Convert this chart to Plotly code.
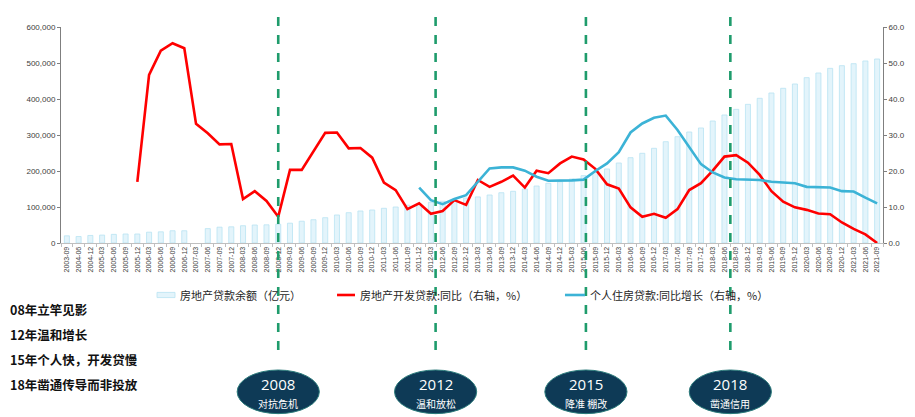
import plotly.graph_objects as go

dates = ['2003-09', '2004-06', '2004-12',
         '2005-03', '2005-06', '2005-09', '2005-12', '2006-03', '2006-06', '2006-09', '2006-12',
         '2007-03', '2007-06', '2007-09', '2007-12', '2008-03', '2008-06', '2008-09', '2008-12',
         '2009-03', '2009-06', '2009-09', '2009-12', '2010-03', '2010-06', '2010-09', '2010-12',
         '2011-03', '2011-06', '2011-09', '2011-12', '2012-03', '2012-06', '2012-09', '2012-12',
         '2013-03', '2013-06', '2013-09', '2013-12', '2014-03', '2014-06', '2014-09', '2014-12',
         '2015-03', '2015-06', '2015-09', '2015-12', '2016-03', '2016-06', '2016-09', '2016-12',
         '2017-03', '2017-06', '2017-09', '2017-12', '2018-03', '2018-06', '2018-09', '2018-12',
         '2019-03', '2019-06', '2019-09', '2019-12', '2020-03', '2020-06', '2020-09', '2020-12',
         '2021-03', '2021-06', '2021-09']

# 房地产贷款余额（亿元）
loan_balance = [20000, 18000, 21000,
                22000, 24000, 25000, 25000, 30000, 31000, 34000, 34000,
                None, 40000, 44000, 45000, 48000, 50000, 50500, 52000,
                55000, 60500, 64700, 70300, 77800, 84200, 88900, 91700,
                96400, 100000, 105000, 108300, 113000, 116000, 121400, 125000,
                128000, 133300, 139700, 143600, 150000, 158300, 165800, 170300,
                177800, 187000, 196000, 205600, 222200, 237000, 249100, 263000,
                281400, 295300, 308300, 319500, 338900, 355600, 371300, 385200,
                401900, 416700, 429700, 441700, 459300, 472200, 485200, 492600,
                498100, 505600, 511100]

# 房地产开发贷款:同比（%）
dev_loan_yoy = [None, None, None,
                None, None, None, 17.0, 46.7, 53.4, 55.5, 54.1,
                33.1, 30.5, 27.4, 27.5, 12.2, 14.4, 11.7, 7.3,
                20.3, 20.3, 25.3, 30.6, 30.7, 26.3, 26.4, 23.7,
                16.8, 14.7, 9.4, 11.0, 8.1, 8.9, 11.9, 10.6,
                17.5, 15.6, 17.0, 18.7, 15.4, 20.1, 19.4, 22.1,
                24.0, 23.2, 20.6, 16.3, 15.1, 9.9, 7.3, 8.1,
                7.0, 9.4, 14.7, 16.6, 20.1, 24.0, 24.4, 22.3,
                18.9, 14.4, 11.5, 9.9, 9.2, 8.2, 8.0, 5.7,
                3.9, 2.4, 0.0]

# 个人住房贷款:同比增长（%）
mortgage_yoy = [None] * 30 + [
                15.4, 11.9, 10.8, 12.2, 13.3,
                17.0, 20.7, 21.0, 21.0, 20.1, 18.4, 17.3, 17.3,
                17.4, 17.6, 20.0, 22.1, 25.2, 30.7, 33.2, 34.8,
                35.4, 31.4, 26.8, 21.9, 19.6, 18.2, 17.7, 17.6,
                17.5, 17.0, 16.7, 16.6, 15.6, 15.4, 15.4, 14.4,
                14.3, 12.6, 11.0]

series_names = ['房地产贷款余额（亿元）', '房地产开发贷款:同比（右轴，%）', '个人住房贷款:同比增长（右轴，%）']

event_pos = [18, 31.4, 44.2, 56.5]
event_year = ['2008', '2012', '2015', '2018']
event_desc = ['对抗危机', '温和放松', '降准 棚改', '凿通信用']

notes = ['08年立竿见影', '12年温和增长', '15年个人快，开发贷慢', '18年凿通传导而非投放']

CJK = 'Noto Sans CJK SC'
NUM = 'Liberation Sans'
BAR_FILL, BAR_EDGE = '#e3f4fb', '#b9e3f3'
RED, BLUE, GREEN = '#ff0000', '#3cb3d6', '#1f9c6c'

fig = go.Figure()

fig.add_trace(go.Bar(x=dates, y=loan_balance, name=series_names[0],
                     marker=dict(color=BAR_FILL, line=dict(color=BAR_EDGE, width=0.8)),
                     yaxis='y'))
fig.add_trace(go.Scatter(x=dates, y=dev_loan_yoy, name=series_names[1],
                         mode='lines', line=dict(color=RED, width=2.6), yaxis='y2'))
fig.add_trace(go.Scatter(x=dates, y=mortgage_yoy, name=series_names[2],
                         mode='lines', line=dict(color=BLUE, width=2.6), yaxis='y2'))

# dashed event lines, ellipses and labels
for pos, yr, desc in zip(event_pos, event_year, event_desc):
    fig.add_shape(type='line', xref='x', yref='paper', x0=pos, x1=pos, y0=1.13, y1=-0.535,
                  line=dict(color=GREEN, width=2.6, dash='dash'), layer='above')
    fig.add_shape(type='circle', xref='x', yref='paper', x0=pos - 3.5, x1=pos + 3.5,
                  y0=-0.588, y1=-0.79, fillcolor='#0e3a56',
                  line=dict(color='#2b7b7b', width=1), layer='above')
    fig.add_annotation(x=pos, y=-0.655, xref='x', yref='paper', text=yr, showarrow=False,
                       yanchor='middle', font=dict(family='Open Sans', size=15, color='white'))
    fig.add_annotation(x=pos, y=-0.742, xref='x', yref='paper', text=desc, showarrow=False,
                       yanchor='middle', font=dict(family=CJK, size=10, color='white'))

# left side notes
for i, t in enumerate(notes):
    fig.add_annotation(x=-0.064, y=-0.31 - i * 0.1157, xref='paper', yref='paper',
                       text='<b>' + t + '</b>', showarrow=False, xanchor='left', yanchor='middle',
                       font=dict(family=CJK, size=12.5, color='#111111'))

# legend row
ly = -0.2407
fig.add_shape(type='rect', xref='paper', yref='paper', x0=0.1168, x1=0.1387,
              y0=ly + 0.012, y1=ly - 0.012, fillcolor=BAR_FILL, line=dict(color=BAR_EDGE, width=0.8))
fig.add_shape(type='line', xref='paper', yref='paper', x0=0.3358, x1=0.3577, y0=ly, y1=ly,
              line=dict(color=RED, width=2.6))
fig.add_shape(type='line', xref='paper', yref='paper', x0=0.6131, x1=0.6375, y0=ly, y1=ly,
              line=dict(color=BLUE, width=2.6))
for lx, name in zip([0.1423, 0.3613, 0.6411], series_names):
    fig.add_annotation(x=lx, y=ly, xref='paper', yref='paper', text=name, showarrow=False,
                       xanchor='left', yanchor='middle',
                       font=dict(family=CJK, size=11, color='#262626'))

# page body has an 8px margin, so the figure is sized to fill the rest of the window
fig.update_layout(
    width=907, height=409,
    margin=dict(l=53, r=32, t=19, b=174, autoexpand=False),
    paper_bgcolor='white', plot_bgcolor='white',
    bargap=0.57,
    showlegend=False,
    xaxis=dict(type='category', tickangle=-90, range=[-0.5, len(dates) - 0.5],
               tickfont=dict(family=NUM, size=7, color='#404040'),
               showline=True, linecolor='#bfbfbf', linewidth=1,
               ticks='outside', ticklen=3, tickcolor='#bfbfbf', tickson='boundaries',
               showgrid=False),
    yaxis=dict(range=[0, 600000], dtick=100000, tickformat=',',
               tickfont=dict(family=NUM, size=8, color='#404040'),
               showline=True, linecolor='#7f7f7f', linewidth=1,
               ticks='outside', ticklen=3, tickcolor='#7f7f7f',
               showgrid=False, zeroline=False),
    yaxis2=dict(range=[0, 60], dtick=10, tickformat='.1f', overlaying='y', side='right',
                tickfont=dict(family=NUM, size=8, color='#404040'),
                showline=True, linecolor='#7f7f7f', linewidth=1,
                ticks='outside', ticklen=3, tickcolor='#7f7f7f',
                showgrid=False, zeroline=False),
)

fig.write_html('out.html')
